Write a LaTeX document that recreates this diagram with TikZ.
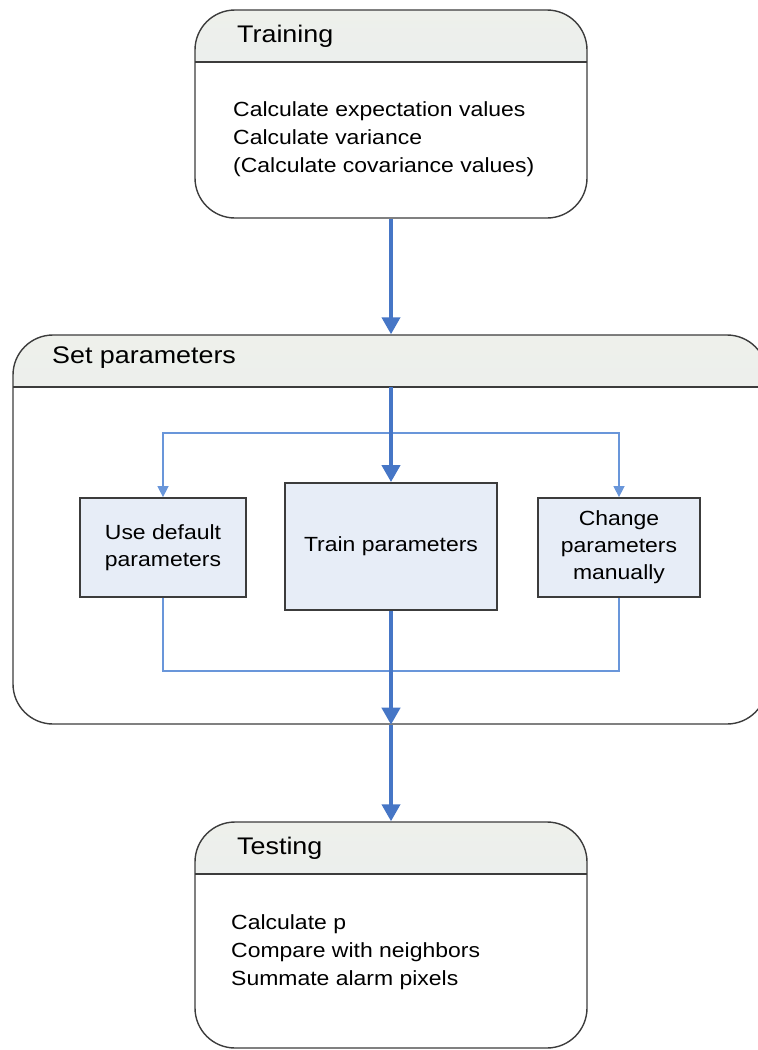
\documentclass[tikz,border=0pt]{standalone}
\usepackage{fontspec}
\setmainfont{Liberation Sans}[FakeStretch=1.12]
\usetikzlibrary{arrows.meta}
\definecolor{bigblue}{RGB}{70,118,198}
\definecolor{thinblue}{RGB}{105,150,218}
\definecolor{hdrtop}{RGB}{238,240,235}
\definecolor{hdrbot}{RGB}{228,234,243}
\definecolor{boxfill}{RGB}{231,237,247}
\definecolor{edge}{RGB}{60,60,60}
\tikzset{
 container/.style={draw=edge, line width=1.4pt, rounded corners=40pt, inner sep=0pt,
   path picture={
     \shade[sharp corners,top color=hdrtop,bottom color=hdrbot] (path picture bounding box.north west) rectangle ([yshift=-52pt]path picture bounding box.north east);
     \draw[sharp corners,edge,line width=1.6pt] ([yshift=-52pt]path picture bounding box.north west) -- ([yshift=-52pt]path picture bounding box.north east);
   }},
 innerbox/.style={draw=edge, line width=1.8pt, fill=boxfill, inner sep=0pt, align=center, font=\fontsize{20.5}{27}\selectfont},
 hdr/.style={anchor=west, font=\fontsize{24}{28}\selectfont, inner sep=0pt},
 body/.style={anchor=west, align=left, font=\fontsize{20.5}{28}\selectfont, inner sep=0pt},
 bigarrow/.style={draw=bigblue, line width=4pt, -{Triangle[length=17pt,width=18pt]}},
 thinline/.style={draw=thinblue, line width=1.5pt},
 thinarrow/.style={thinline, -{Triangle[length=11pt,width=11pt]}},
}
\begin{document}
\begin{tikzpicture}[x=1pt,y=-1pt]
\useasboundingbox (0,0) rectangle (758,1050);
\clip (0,0) rectangle (758,1050);
% containers
\node[container, minimum width=392pt, minimum height=208pt] (training) at (391,114) {};
\node[container, minimum width=754pt, minimum height=389pt] (setp) at (390,529.5) {};
\node[container, minimum width=392pt, minimum height=226pt] (testing) at (391,935) {};
% container texts
\node[hdr] (trainingT) at (237,36) {Training};
\node[body] (trainingB) at (233,139) {Calculate expectation values\\Calculate variance\\(Calculate covariance values)};
\node[hdr] (setT) at (52,358) {Set parameters};
\node[hdr] (testT) at (237,848) {Testing};
\node[body] (testB) at (231,952) {Calculate p\\Compare with neighbors\\Summate alarm pixels};
% inner boxes
\node[innerbox, minimum width=166pt, minimum height=99pt] (usedef) at (163,547.5) {Use default\\parameters};
\node[innerbox, minimum width=212pt, minimum height=127pt] (trainp) at (391,546.5) {Train parameters};
\node[innerbox, minimum width=162pt, minimum height=99pt] (changep) at (619,547.5) {Change\\parameters\\manually};
% coordinates
\coordinate (hdrline) at (391,387);
\coordinate (split) at (391,433);
\coordinate (merge) at (391,671);
% thin connectors
\draw[thinarrow] (split) -| (usedef.north);
\draw[thinarrow] (split) -| (changep.north);
\draw[thinline] (usedef.south) |- (merge) -| (changep.south);
% main arrows
\draw[bigarrow] (training.south) -- (training.south |- setp.north);
\draw[bigarrow] (hdrline) -- (trainp.north);
\draw[bigarrow] (trainp.south) -- (trainp.south |- setp.south);
\draw[bigarrow] (trainp.south |- setp.south) -- (testing.north);
\end{tikzpicture}
\end{document}
